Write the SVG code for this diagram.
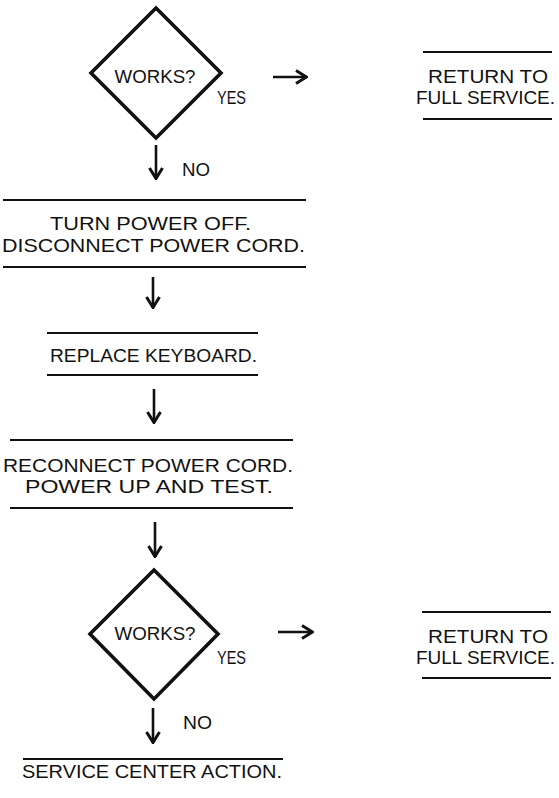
<svg xmlns="http://www.w3.org/2000/svg" width="559" height="798" viewBox="0 0 559 798">
<style>
text{font-family:"Liberation Sans","Open Sans",sans-serif;font-size:17.5px;fill:#111;}
.c{text-anchor:middle;}
.dia{fill:none;stroke:#111;stroke-width:3.6;stroke-linejoin:miter;}
.rule{stroke:#111;stroke-width:2;}
.arr{stroke:#111;stroke-width:2.6;fill:none;marker-end:url(#head);}
</style>
<defs>
<marker id="head" markerUnits="userSpaceOnUse" viewBox="0 0 14 16" markerWidth="14" markerHeight="16" refX="13" refY="8" orient="auto">
<path d="M2,1.5 L12.5,8 L2,14.5" fill="none" stroke="#111" stroke-width="3"/>
</marker>
</defs>
<g id="connectors">
<line class="arr" x1="273" y1="77" x2="307" y2="77"/>
<line class="arr" x1="156" y1="145" x2="156" y2="179"/>
<line class="arr" x1="153" y1="277" x2="153" y2="308"/>
<line class="arr" x1="154" y1="389" x2="154" y2="423"/>
<line class="arr" x1="155" y1="522" x2="155" y2="557"/>
<line class="arr" x1="278" y1="632" x2="313" y2="632"/>
<line class="arr" x1="153" y1="708" x2="153" y2="743"/>
</g>
<g id="works1">
<polygon class="dia" points="156,8 221,73 156,138 91,73"/>
<text class="c" x="155" y="83" textLength="81" lengthAdjust="spacingAndGlyphs">WORKS?</text>
<text x="217" y="104" textLength="29" lengthAdjust="spacingAndGlyphs">YES</text>
<text x="182" y="176" textLength="28" lengthAdjust="spacingAndGlyphs">NO</text>
</g>
<g id="return1">
<line class="rule" x1="423" y1="52" x2="552" y2="52"/>
<text class="c" x="488" y="83" textLength="120" lengthAdjust="spacingAndGlyphs">RETURN TO</text>
<text class="c" x="485.5" y="104" textLength="139" lengthAdjust="spacingAndGlyphs">FULL SERVICE.</text>
<line class="rule" x1="423" y1="119" x2="552" y2="119"/>
</g>
<g id="poweroff">
<line class="rule" x1="3" y1="200" x2="306" y2="200"/>
<text class="c" x="150.5" y="230" textLength="201" lengthAdjust="spacingAndGlyphs">TURN POWER OFF.</text>
<text class="c" x="153.5" y="252" textLength="303" lengthAdjust="spacingAndGlyphs">DISCONNECT POWER CORD.</text>
<line class="rule" x1="3" y1="267" x2="306" y2="267"/>
</g>
<g id="keyboard">
<line class="rule" x1="47" y1="333" x2="258" y2="333"/>
<text class="c" x="153.5" y="362" textLength="207" lengthAdjust="spacingAndGlyphs">REPLACE KEYBOARD.</text>
<line class="rule" x1="47" y1="375" x2="258" y2="375"/>
</g>
<g id="reconnect">
<line class="rule" x1="10" y1="440" x2="293" y2="440"/>
<text class="c" x="148" y="472" textLength="290" lengthAdjust="spacingAndGlyphs">RECONNECT POWER CORD.</text>
<text class="c" x="149" y="493" textLength="248" lengthAdjust="spacingAndGlyphs">POWER UP AND TEST.</text>
<line class="rule" x1="10" y1="508" x2="293" y2="508"/>
</g>
<g id="works2">
<polygon class="dia" points="154,570 218,634 154,699 90,634"/>
<text class="c" x="155" y="640" textLength="81" lengthAdjust="spacingAndGlyphs">WORKS?</text>
<text x="217" y="664" textLength="29" lengthAdjust="spacingAndGlyphs">YES</text>
<text x="183" y="729" textLength="29" lengthAdjust="spacingAndGlyphs">NO</text>
</g>
<g id="return2">
<line class="rule" x1="422" y1="612" x2="551" y2="612"/>
<text class="c" x="488" y="643" textLength="120" lengthAdjust="spacingAndGlyphs">RETURN TO</text>
<text class="c" x="485.5" y="664" textLength="139" lengthAdjust="spacingAndGlyphs">FULL SERVICE.</text>
<line class="rule" x1="422" y1="678" x2="551" y2="678"/>
</g>
<g id="service">
<line class="rule" x1="23" y1="759" x2="283" y2="759"/>
<text class="c" x="152" y="778" textLength="260" lengthAdjust="spacingAndGlyphs">SERVICE CENTER ACTION.</text>
</g>
</svg>
